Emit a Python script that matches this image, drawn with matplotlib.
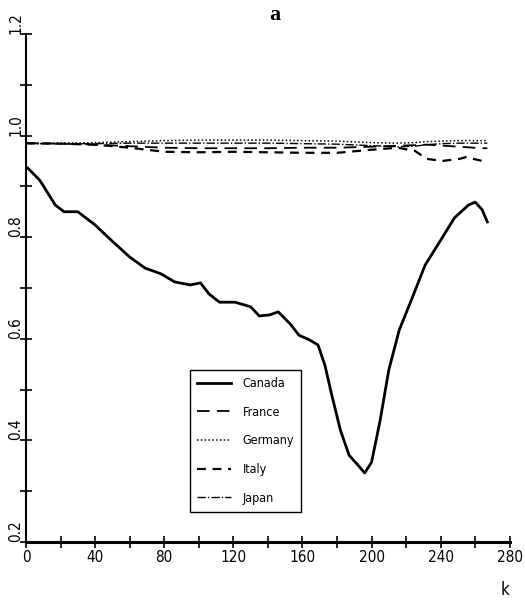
import matplotlib.pyplot as plt
from matplotlib.ticker import MultipleLocator, FormatStrFormatter

# ------------------------------------------------------------
# Data
# ------------------------------------------------------------

canada_k = [1, 8, 17, 22, 30, 40, 49, 60, 69, 78, 86, 95, 101, 106, 112, 121,
            130, 135, 141, 146, 153, 158, 164, 169, 173, 177, 182, 187, 192,
            196, 200, 205, 210, 216, 223, 231, 240, 248, 256, 260, 264, 267]
canada = [0.936, 0.912, 0.863, 0.850, 0.850, 0.824, 0.795, 0.761, 0.739, 0.728,
          0.712, 0.706, 0.710, 0.688, 0.672, 0.672, 0.663, 0.645, 0.647, 0.653,
          0.629, 0.607, 0.598, 0.588, 0.548, 0.489, 0.420, 0.371, 0.352, 0.336,
          0.357, 0.440, 0.539, 0.617, 0.676, 0.745, 0.794, 0.838, 0.863, 0.869,
          0.854, 0.830]

others_k = [0, 20, 40, 60, 80, 100, 120, 140, 160, 180, 200, 215, 225, 232,
            241, 251, 255, 259, 264, 267]
france = [0.985, 0.984, 0.982, 0.979, 0.976, 0.975, 0.975, 0.975, 0.976, 0.976,
          0.978, 0.980, 0.981, 0.982, 0.980, 0.978, 0.977, 0.976, 0.975, 0.975]
germany = [0.984, 0.985, 0.986, 0.988, 0.990, 0.991, 0.991, 0.991, 0.990, 0.989,
           0.986, 0.985, 0.986, 0.988, 0.989, 0.990, 0.990, 0.990, 0.990, 0.990]
italy = [0.985, 0.984, 0.982, 0.976, 0.968, 0.967, 0.968, 0.967, 0.966, 0.966,
         0.972, 0.976, 0.970, 0.954, 0.950, 0.954, 0.958, 0.954, 0.950, 0.951]
japan = [0.984, 0.984, 0.984, 0.985, 0.985, 0.985, 0.985, 0.985, 0.984, 0.983,
         0.980, 0.978, 0.979, 0.982, 0.984, 0.985, 0.985, 0.985, 0.985, 0.985]

# ------------------------------------------------------------
# Plot
# ------------------------------------------------------------

plt.rcParams["font.family"] = ["DejaVu Sans"]
plt.rcParams["font.stretch"] = "condensed"

fig = plt.figure(figsize=(5.25, 6.05), dpi=100)
ax = fig.add_axes([0.0495, 0.104, 0.9215, 0.84])

ax.plot(canada_k, canada, color="black", lw=2.0, ls="-", label="Canada")
ax.plot(others_k, france, color="black", lw=1.3, ls=(0, (7, 4)), label="France")
ax.plot(others_k, germany, color="black", lw=1.1, ls=(0, (1, 1.5)), label="Germany")
ax.plot(others_k, italy, color="black", lw=1.6, ls=(0, (4, 3)), label="Italy")
ax.plot(others_k, japan, color="black", lw=1.0, ls=(0, (6, 1.5, 1, 1.5)), label="Japan")

ax.set_xlim(0, 280)
ax.set_ylim(0.2, 1.2)

ax.xaxis.set_major_locator(MultipleLocator(40))
ax.xaxis.set_minor_locator(MultipleLocator(20))
ax.yaxis.set_major_locator(MultipleLocator(0.2))
ax.yaxis.set_minor_locator(MultipleLocator(0.1))
ax.yaxis.set_major_formatter(FormatStrFormatter("%.1f"))

ax.tick_params(which="both", direction="inout", length=8, width=1.2, labelsize=11)
ax.tick_params(axis="x", pad=2)
ax.tick_params(axis="y", pad=-2)
for lab in ax.get_yticklabels():
    lab.set_rotation(90)
    lab.set_va("bottom")

ax.spines["top"].set_visible(False)
ax.spines["right"].set_visible(False)
ax.spines["left"].set_linewidth(1.5)
ax.spines["bottom"].set_linewidth(2.2)

fig.text(0.523, 0.975, "a", ha="center", va="center",
         fontsize=16, fontweight="bold", family="Liberation Serif")
fig.text(0.962, 0.024, "k", ha="center", va="center", fontsize=12)

ax.legend(loc="lower left", bbox_to_anchor=(0.339, 0.059), fancybox=False,
          edgecolor="black", framealpha=1, fontsize=9, handlelength=2.7,
          handletextpad=0.9, borderpad=0.6, borderaxespad=0,
          labelspacing=1.25)

fig.savefig("out.png", dpi=100)
